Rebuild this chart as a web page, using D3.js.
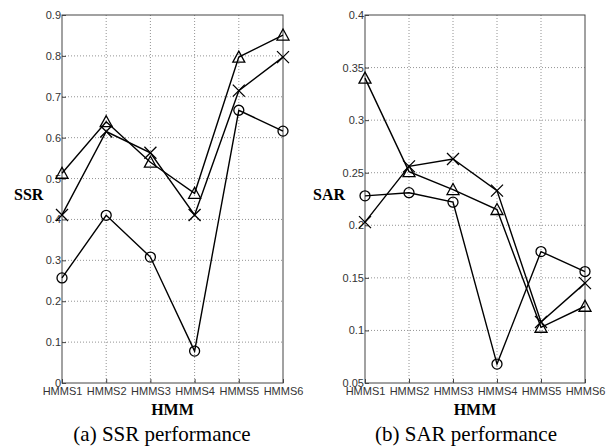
<!DOCTYPE html>
<html>
<head>
<meta charset="utf-8">
<script src="https://cdn.jsdelivr.net/npm/d3@7"></script>
<style>
  body { margin: 0; background: #fff; }
  .tick text { font-family: Arial, 'Liberation Sans', sans-serif; font-size: 11px; fill: #333; }
</style>
</head>
<body>
<div id="chart"></div>
<script>
const categories = ['HMMS1', 'HMMS2', 'HMMS3', 'HMMS4', 'HMMS5', 'HMMS6']

// SSR panel
const ssrTriangle = [0.513, 0.639, 0.54, 0.464, 0.797, 0.851]
const ssrCross = [0.411, 0.615, 0.563, 0.411, 0.715, 0.797]
const ssrCircle = [0.257, 0.41, 0.308, 0.078, 0.667, 0.616]
const ssrTicks = [0, 0.1, 0.2, 0.3, 0.4, 0.5, 0.6, 0.7, 0.8, 0.9]

// SAR panel
const sarTriangle = [0.34, 0.251, 0.234, 0.215, 0.103, 0.123]
const sarCross = [0.203, 0.256, 0.263, 0.233, 0.108, 0.145]
const sarCircle = [0.228, 0.231, 0.222, 0.068, 0.175, 0.156]
const sarTicks = [0.05, 0.1, 0.15, 0.2, 0.25, 0.3, 0.35, 0.4]

const width = 613
const height = 447

const svg = d3
  .select('#chart')
  .append('svg')
  .attr('width', width)
  .attr('height', height)

function panel(opts) {
  const g = svg.append('g')
  const x = d3.scalePoint().domain(categories).range([opts.x0, opts.x1])
  const y = d3.scaleLinear().domain(opts.domain).range([383, 15])

  // grid
  g.selectAll('.hgrid')
    .data(opts.ticks.slice(1, -1))
    .enter()
    .append('line')
    .attr('x1', opts.x0)
    .attr('x2', opts.x1)
    .attr('y1', d => y(d))
    .attr('y2', d => y(d))
    .attr('stroke', '#777')
    .attr('stroke-width', 0.8)
    .attr('stroke-dasharray', '1,2')
  g.selectAll('.vgrid')
    .data(categories.slice(1, -1))
    .enter()
    .append('line')
    .attr('x1', d => x(d))
    .attr('x2', d => x(d))
    .attr('y1', 15)
    .attr('y2', 383)
    .attr('stroke', '#777')
    .attr('stroke-width', 0.8)
    .attr('stroke-dasharray', '1,2')

  // box
  g.append('rect')
    .attr('x', opts.x0)
    .attr('y', 15)
    .attr('width', opts.x1 - opts.x0)
    .attr('height', 368)
    .attr('fill', 'none')
    .attr('stroke', '#444')
    .attr('stroke-width', 1)

  g.append('g')
    .attr('transform', 'translate(' + opts.x0 + ',0)')
    .call(d3.axisLeft(y).tickValues(opts.ticks).tickSize(4).tickSizeOuter(0).tickFormat(d3.format('~g')))
    .call(a => a.select('.domain').remove())
    .call(a => a.selectAll('.tick line').attr('x2', 4).attr('stroke', '#444'))
    .call(a => a.selectAll('.tick text').attr('x', -1))

  g.append('g')
    .attr('transform', 'translate(0,383)')
    .call(d3.axisBottom(x).tickSize(4).tickSizeOuter(0))
    .call(a => a.select('.domain').remove())
    .call(a => a.selectAll('.tick line').attr('y2', -4).attr('stroke', '#444'))
    .call(a => a.selectAll('.tick text').attr('y', 4))

  const line = d3.line()
    .x((d, i) => x(categories[i]))
    .y(d => y(d))

  opts.series.forEach(s => {
    g.append('path')
      .datum(s.values)
      .attr('d', line)
      .attr('fill', 'none')
      .attr('stroke', '#000')
      .attr('stroke-width', 1.4)

    const m = g.selectAll(null)
      .data(s.values)
      .enter()
      .append('g')
      .attr('transform', (d, i) => 'translate(' + x(categories[i]) + ',' + y(d) + ')')
    if (s.marker === 'circle') {
      m.append('circle').attr('r', 5).attr('fill', 'none').attr('stroke', '#000').attr('stroke-width', 1.3)
    } else if (s.marker === 'triangle') {
      m.append('path').attr('d', 'M0,-6L6,5L-6,5Z').attr('fill', 'none').attr('stroke', '#000').attr('stroke-width', 1.3)
    } else {
      m.append('path').attr('d', 'M-6,-6L6,6M-6,6L6,-6').attr('fill', 'none').attr('stroke', '#000').attr('stroke-width', 1.3)
    }
  })

  svg.append('text')
    .attr('x', opts.labelX)
    .attr('y', 200)
    .style('font-family', "'Liberation Serif', 'Times New Roman', serif")
    .style('font-weight', 'bold')
    .style('font-size', '16px')
    .text(opts.label)

  svg.append('text')
    .attr('x', (opts.x0 + opts.x1) / 2)
    .attr('y', 415)
    .attr('text-anchor', 'middle')
    .style('font-family', "'Liberation Serif', 'Times New Roman', serif")
    .style('font-weight', 'bold')
    .style('font-size', '16px')
    .text('HMM')

  svg.append('text')
    .attr('x', opts.captionX)
    .attr('y', 441)
    .attr('text-anchor', 'middle')
    .style('font-family', "'Liberation Serif', 'Times New Roman', serif")
    .style('font-size', '21px')
    .text(opts.caption)
}

panel({
  x0: 62, x1: 283, domain: [0, 0.9], ticks: ssrTicks,
  label: 'SSR', labelX: 14, caption: '(a) SSR performance', captionX: 162,
  series: [
    { values: ssrTriangle, marker: 'triangle' },
    { values: ssrCross, marker: 'cross' },
    { values: ssrCircle, marker: 'circle' }
  ]
})

panel({
  x0: 365, x1: 585, domain: [0.05, 0.4], ticks: sarTicks,
  label: 'SAR', labelX: 313, caption: '(b) SAR performance', captionX: 466,
  series: [
    { values: sarTriangle, marker: 'triangle' },
    { values: sarCross, marker: 'cross' },
    { values: sarCircle, marker: 'circle' }
  ]
})
</script>
</body>
</html>
